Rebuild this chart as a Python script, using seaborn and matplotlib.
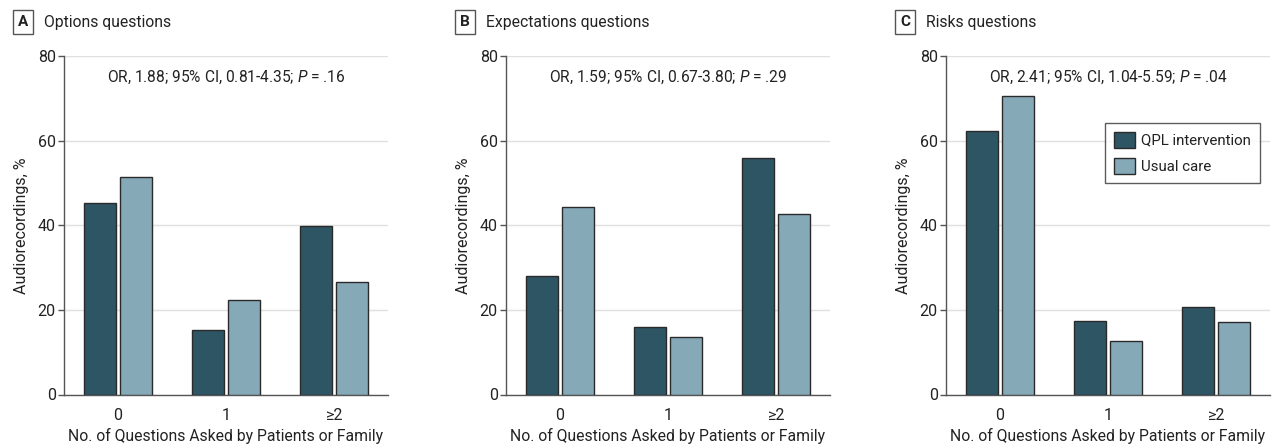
import matplotlib
matplotlib.use("Agg")
import matplotlib.pyplot as plt
from matplotlib.patches import Patch
import seaborn as sns
import pandas as pd

categories = ["0", "1", "≥2"]
groups = ["QPL intervention", "Usual care"]
colors = ["#2e5563", "#86a9b8"]

panel_letters = ["A", "B", "C"]
panel_titles = ["Options questions", "Expectations questions", "Risks questions"]
annotations = [
    ("1.88", "0.81-4.35", ".16"),
    ("1.59", "0.67-3.80", ".29"),
    ("2.41", "1.04-5.59", ".04"),
]
qpl_values = [
    [45.3, 15.3, 39.9],
    [28.1, 16.0, 56.0],
    [62.3, 17.4, 20.6],
]
usual_values = [
    [51.3, 22.4, 26.6],
    [44.2, 13.5, 42.6],
    [70.6, 12.7, 17.2],
]
y_ticks = [0, 20, 40, 60, 80]

sns.set_style("white")
FONT = ["Roboto", "DejaVu Sans"]
plt.rcParams["font.family"] = FONT
plt.rcParams["mathtext.fontset"] = "custom"
plt.rcParams["mathtext.rm"] = "Roboto"
plt.rcParams["mathtext.it"] = "Roboto:italic"

fig = plt.figure(figsize=(12.73, 4.48), dpi=100)
lefts = [64 / 1273, 506 / 1273, 946 / 1273]
W = 324 / 1273
B = 1 - 394.5 / 448
H = (394.5 - 56) / 448

text_col = "#222222"
spine_col = "#555555"

for i in range(3):
    ax = fig.add_axes([lefts[i], B, W, H])
    df = pd.DataFrame({
        "cat": categories * 2,
        "group": [groups[0]] * 3 + [groups[1]] * 3,
        "val": qpl_values[i] + usual_values[i],
    })
    sns.barplot(data=df, x="cat", y="val", hue="group", order=categories,
                hue_order=groups, palette=colors, width=0.66, gap=0.1,
                edgecolor="#2a2a2a", linewidth=1.0, legend=False, ax=ax,
                saturation=1, zorder=3)
    ax.set_ylim(0, 80)
    ax.set_xlim(-0.5, 2.5)
    ax.set_yticks(y_ticks)
    ax.yaxis.grid(True, color="#e0e0e0", linewidth=1.0, zorder=0)
    ax.set_axisbelow(True)
    for s in ["top", "right"]:
        ax.spines[s].set_visible(False)
    for s in ["left", "bottom"]:
        ax.spines[s].set_color(spine_col)
        ax.spines[s].set_linewidth(1.0)
    ax.tick_params(axis="y", which="both", left=True, length=4, width=1,
                   color=spine_col, labelsize=11.5, labelcolor=text_col, pad=2)
    ax.tick_params(axis="x", bottom=False, labelsize=11.5, labelcolor=text_col, pad=6)
    ax.set_xlabel("No. of Questions Asked by Patients or Family", fontsize=11.3,
                  color=text_col, labelpad=4)
    ax.set_ylabel("Audiorecordings, %", fontsize=11.5, color=text_col, labelpad=6)
    oratio, ci, p = annotations[i]
    ax.text(1.0, 75.0, f"OR, {oratio}; 95% CI, {ci}; $P$ = {p}", ha="center",
            va="center", fontsize=11.2, color=text_col)

    # panel label
    xl = (lefts[i] * 1273 - 52 + 11) / 1273
    fig.text(xl, 1 - 22 / 448, panel_letters[i], ha="center", va="center",
             fontsize=11, fontweight="bold", color=text_col,
             bbox=dict(boxstyle="square,pad=0.35", facecolor="white",
                       edgecolor="#555555", linewidth=1.0))
    fig.text(xl + 21 / 1273, 1 - 22 / 448, panel_titles[i], ha="left",
             va="center", fontsize=11.3, color=text_col)

    if i == 2:
        handles = [Patch(facecolor=colors[k], edgecolor="#2a2a2a", linewidth=1.0)
                   for k in range(2)]
        leg = ax.legend(handles, groups, loc="upper right",
                        bbox_to_anchor=(0.97, 0.803), borderaxespad=0,
                        frameon=True, fancybox=False, fontsize=10.8,
                        handlelength=1.4, handleheight=1.25, handletextpad=0.4,
                        labelspacing=0.7, borderpad=0.6)
        leg.get_frame().set_edgecolor("#333333")
        leg.get_frame().set_linewidth(1.0)
        for t in leg.get_texts():
            t.set_color(text_col)

fig.savefig("out.png", dpi=100)
